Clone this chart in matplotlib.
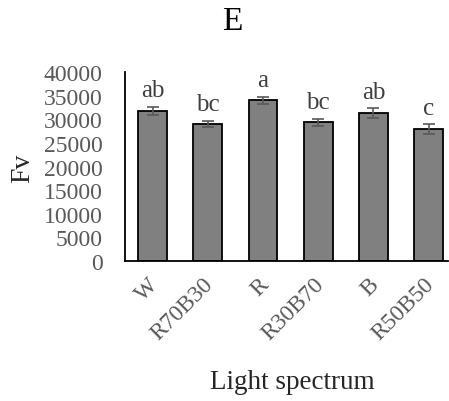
import matplotlib
matplotlib.use("Agg")
import matplotlib.pyplot as plt
from matplotlib.transforms import ScaledTranslation

categories = ["W", "R70B30", "R", "R30B70", "B", "R50B50"]
values = [31700, 29000, 34000, 29350, 31300, 27900]
errors = [900, 700, 700, 700, 1000, 1050]
letters = ["ab", "bc", "a", "bc", "ab", "c"]
yticks = [0, 5000, 10000, 15000, 20000, 25000, 30000, 35000, 40000]

plt.rcParams['font.family'] = ['Liberation Serif', 'DejaVu Serif']

W, H = 449, 402
fig = plt.figure(figsize=(W / 100, H / 100), dpi=100)
ax = fig.add_axes([125 / W, 1 - 262 / H, (448 - 125) / W, (262 - 73) / H])

x = list(range(len(categories)))
ax.bar(x, values, width=0.52, color="#808080", edgecolor="black", linewidth=1.3, zorder=2)
ax.errorbar(x, values, yerr=errors, fmt="none", ecolor="#595959", elinewidth=1.2,
            capsize=4.5, capthick=1.2, zorder=3)
for xi, v, e, t in zip(x, values, errors, letters):
    ax.annotate(t, (xi, v + e), xytext=(0, 4), textcoords="offset points",
                ha="center", va="bottom", fontsize=18, color="#404040")

ax.set_xlim(-0.5, 5.35)
ax.set_ylim(0, 40000)
ax.set_yticks(yticks)
ax.set_yticklabels([str(t) for t in yticks], fontsize=17, color="#595959")
ax.set_xticks(x)
ax.set_xticklabels(categories, rotation=45, ha="right", rotation_mode="anchor",
                   fontsize=17, color="#595959")
ax.tick_params(axis="y", length=0, pad=16)
ax.tick_params(axis="x", length=0, pad=9)
off = ScaledTranslation(-5 / 100, 0, fig.dpi_scale_trans)
for lab in ax.get_xticklabels():
    lab.set_transform(lab.get_transform() + off)
for s in ["top", "right"]:
    ax.spines[s].set_visible(False)
for s in ["left", "bottom"]:
    ax.spines[s].set_linewidth(1.3)
    ax.spines[s].set_color("black")

fig.text(232 / W, 1 - 22 / H, "E", ha="center", va="center", fontsize=24, color="black")
fig.text(23 / W, 1 - 168 / H, "Fv", ha="center", va="center", rotation=90, fontsize=20, color="#262626")
fig.text(292 / W, 1 - 383 / H, "Light spectrum", ha="center", va="center", fontsize=19.5, color="#262626")

fig.savefig("out.png", dpi=100)
